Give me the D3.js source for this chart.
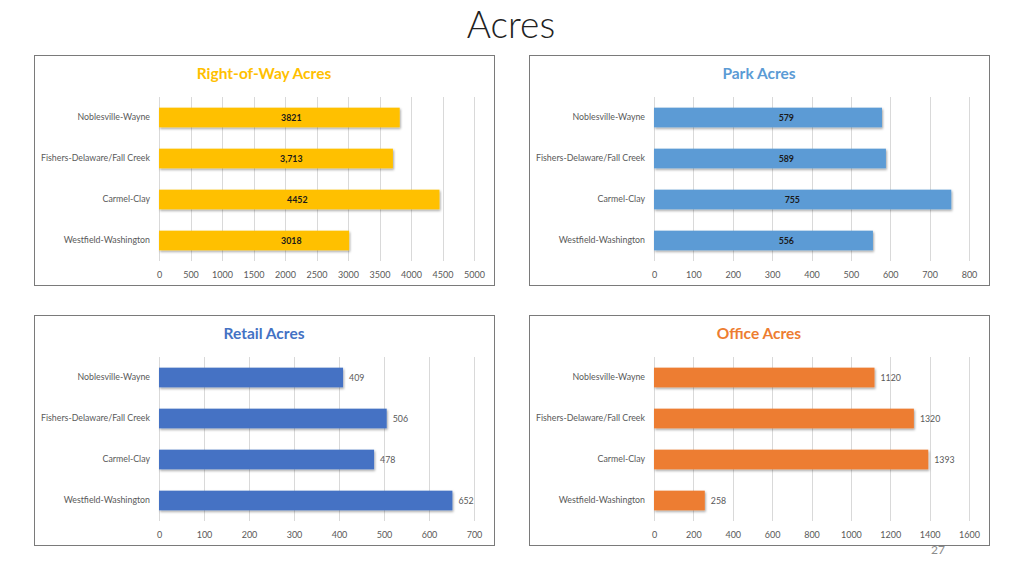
<!DOCTYPE html>
<html><head><meta charset="utf-8">
<script src="https://cdn.jsdelivr.net/npm/d3@7"></script>
<style>
html,body{margin:0;padding:0;background:#fff;}
svg{display:block;font-family:Lato,"Open Sans",sans-serif;}
</style></head>
<body>
<svg id="c" width="1024" height="576"></svg>
<script>
const categories = ["Noblesville-Wayne","Fishers-Delaware/Fall Creek","Carmel-Clay","Westfield-Washington"];
const rowValues = [3821, 3713, 4452, 3018];
const rowLabels = ["3821", "3,713", "4452", "3018"];
const parkValues = [579, 589, 755, 556];
const retailValues = [409, 506, 478, 652];
const officeValues = [1120, 1320, 1393, 258];
const rowTicks = [0,500,1000,1500,2000,2500,3000,3500,4000,4500,5000];
const parkTicks = [0,100,200,300,400,500,600,700,800];
const retailTicks = [0,100,200,300,400,500,600,700];
const officeTicks = [0,200,400,600,800,1000,1200,1400,1600];
const panelTitles = ["Right-of-Way Acres","Park Acres","Retail Acres","Office Acres"];
const mainTitle = "Acres";
const pageNumber = "27";

const panels = [
  {title: panelTitles[0], values: rowValues, labels: rowLabels, ticks: rowTicks, color:"#FFC000", inside:true, x:34, y:55},
  {title: panelTitles[1], values: parkValues, labels: parkValues.map(String), ticks: parkTicks, color:"#5B9BD5", inside:true, x:529, y:55},
  {title: panelTitles[2], values: retailValues, labels: retailValues.map(String), ticks: retailTicks, color:"#4472C4", inside:false, x:34, y:315},
  {title: panelTitles[3], values: officeValues, labels: officeValues.map(String), ticks: officeTicks, color:"#ED7D31", inside:false, x:529, y:315}
];

const svg = d3.select("#c");
const defs = svg.append("defs");
const f = defs.append("filter").attr("id","sh").attr("x","-5%").attr("y","-20%").attr("width","115%").attr("height","160%");
f.append("feDropShadow").attr("dx",1).attr("dy",1.5).attr("stdDeviation",1).attr("flood-color","#000").attr("flood-opacity",0.35);

svg.append("text").attr("x",511).attr("y",38).attr("text-anchor","middle")
  .attr("font-size",37).attr("font-weight",300).attr("fill","#222").text(mainTitle);

svg.append("text").attr("x",938).attr("y",554).attr("text-anchor","middle")
  .attr("font-size",12).attr("fill","#8c8c8c").text(pageNumber);

const W = 460, H = 230;
panels.forEach(p => {
  const g = svg.append("g").attr("transform",`translate(${p.x},${p.y})`);
  g.append("rect").attr("x",0.5).attr("y",0.5).attr("width",W).attr("height",H)
    .attr("fill","#fff").attr("stroke","#7a7a7a").attr("stroke-width",1);
  g.append("text").attr("x",W/2).attr("y",24).attr("text-anchor","middle")
    .attr("font-size",15.5).attr("font-weight",700).attr("fill",p.color).text(p.title);

  const left = 125, right = 440, top = 42, bottom = 206;
  const x = d3.scaleLinear().domain([0, p.ticks[p.ticks.length-1]]).range([left,right]);
  const y = d3.scaleBand().domain(categories).range([top,bottom]).paddingInner(0.52).paddingOuter(0.26);

  g.append("g").selectAll("line").data(p.ticks).join("line")
    .attr("x1",d=>Math.round(x(d))+0.5).attr("x2",d=>Math.round(x(d))+0.5)
    .attr("y1",top).attr("y2",bottom)
    .attr("stroke","#d9d9d9").attr("stroke-width",1);

  const ax = d3.axisBottom(x).tickValues(p.ticks).tickSize(0).tickPadding(0).tickFormat(d=>String(d));
  const axg = g.append("g").attr("transform",`translate(0,${bottom+11})`).call(ax);
  axg.select(".domain").remove();
  axg.selectAll("text").attr("font-size",9).attr("fill","#595959").attr("font-family","Lato,sans-serif");

  const ay = d3.axisLeft(y).tickSize(0).tickPadding(0);
  const ayg = g.append("g").attr("transform",`translate(${left-9},0)`).call(ay);
  ayg.select(".domain").remove();
  ayg.selectAll("text").attr("font-size",8.8).attr("fill","#595959").attr("font-family","Lato,sans-serif");

  const data = categories.map((c,i)=>({c, v:p.values[i], l:p.labels[i]}));
  g.append("g").selectAll("rect").data(data).join("rect")
    .attr("x",x(0)).attr("y",d=>y(d.c)).attr("width",d=>x(d.v)-x(0)).attr("height",y.bandwidth())
    .attr("fill",p.color).attr("filter","url(#sh)");

  g.append("g").selectAll("text").data(data).join("text")
    .attr("x",d=> p.inside ? x(0) + 0.42*(right-left) + (d.v/x.domain()[1] > 0.85 ? 6 : 0) : x(d.v)+6)
    .attr("y",d=>y(d.c)+y.bandwidth()/2)
    .attr("dy","0.35em")
    .attr("text-anchor", p.inside ? "middle" : "start")
    .attr("font-size",8.8)
    .attr("font-weight", p.inside ? 700 : 400)
    .attr("fill", p.inside ? "#1a1a1a" : "#595959")
    .text(d=>d.l);
});
</script>
</body></html>
